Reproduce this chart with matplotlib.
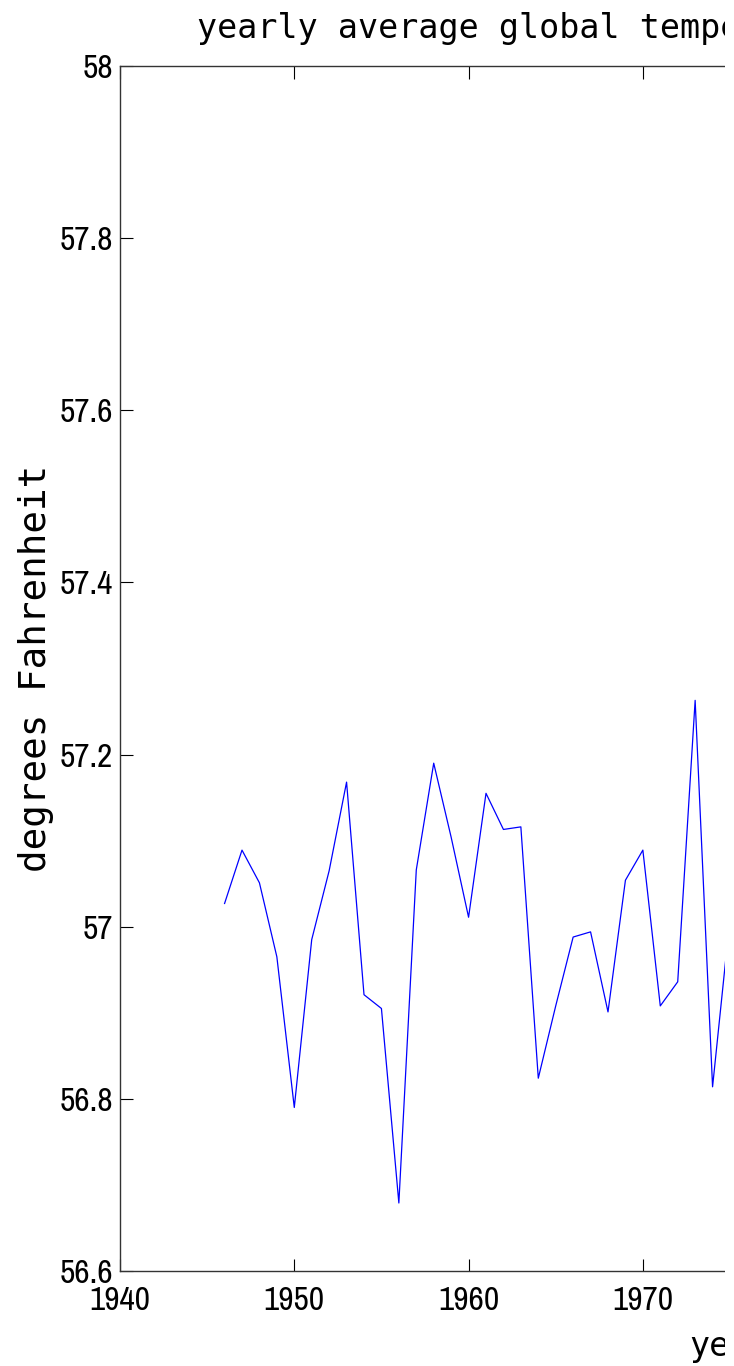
import numpy as np
import matplotlib.pyplot as plt
from matplotlib import font_manager
from matplotlib.patches import Rectangle
from matplotlib.ticker import FuncFormatter

# yearly average global temperature, degrees F
years = np.arange(1946, 1976)
temps = [57.027, 57.089, 57.051, 56.965, 56.790, 56.985, 57.065, 57.168,
         56.921, 56.905, 56.679, 57.066, 57.190, 57.104, 57.011, 57.155,
         57.113, 57.116, 56.824, 56.908, 56.988, 56.994, 56.901, 57.054,
         57.089, 56.908, 56.936, 57.263, 56.814, 57.010]

xticks = np.arange(1940, 1971, 10)
yticks = np.arange(56.6, 58.01, 0.2)


def narrow_font():
    # pick the narrowest upright sans face available for the tick numbers
    cands = []
    for f in font_manager.fontManager.ttflist:
        fn = f.fname.lower().replace('-', '').replace('_', '')
        if f.style != 'normal' or 'mono' in fn or 'bold' in fn or 'light' in fn \
                or 'italic' in fn or 'semi' in fn or 'extra' in fn or 'thin' in fn \
                or 'medium' in fn or 'black' in fn:
            continue
        if 'narrow' in fn:
            rank = 0
        elif 'condensed' in fn and 'dejavu' not in fn:
            rank = 1
        elif 'condensed' in fn:
            rank = 3
        else:
            continue
        cands.append((rank, f.fname))
    if cands:
        return font_manager.FontProperties(fname=sorted(cands)[0][1])
    return font_manager.FontProperties(family='Liberation Sans')


tick_fp = narrow_font()
label_font = 'DejaVu Sans Mono'

W, H = 734, 1366
fig = plt.figure(figsize=(W / 100, H / 100), dpi=100)
ax = fig.add_axes([120 / W, 1 - 1271 / H, 1220 / W, (1271 - 66) / H])

ax.plot(years, temps, color=(0, 0, 1), linewidth=0.9)

ax.set_xlim(1940, 2010)
ax.set_ylim(56.6, 58)
ax.set_xticks(xticks)
ax.set_yticks(yticks)
ax.yaxis.set_major_formatter(FuncFormatter(lambda v, p: '%g' % round(v, 1)))
ax.tick_params(direction='in', length=9, width=0.8, top=True, right=True,
               colors='black')
ax.tick_params(axis='x', pad=11)
ax.tick_params(axis='y', pad=5)
for lab in ax.get_xticklabels() + ax.get_yticklabels():
    lab.set_fontproperties(tick_fp)
    lab.set_fontsize(24)
for s in ax.spines.values():
    s.set_linewidth(1.0)
    s.set_color('#333333')

# title and axis labels
fig.text(197 / W, 1 - 38 / H, 'yearly average global temperature',
         fontsize=24, family=label_font, ha='left', va='baseline')
fig.text(36 / W, 1 - 668 / H, 'degrees Fahrenheit', rotation=90,
         fontsize=27, family=label_font, ha='center', va='center')
ax.set_xlabel('year', fontsize=24, family=label_font, labelpad=10)

# right margin of the canvas stays blank
fig.add_artist(Rectangle((725 / W, 0), 9 / W, 1, transform=fig.transFigure,
                         facecolor='white', edgecolor='none', zorder=100))

fig.savefig('out.png', dpi=100)
